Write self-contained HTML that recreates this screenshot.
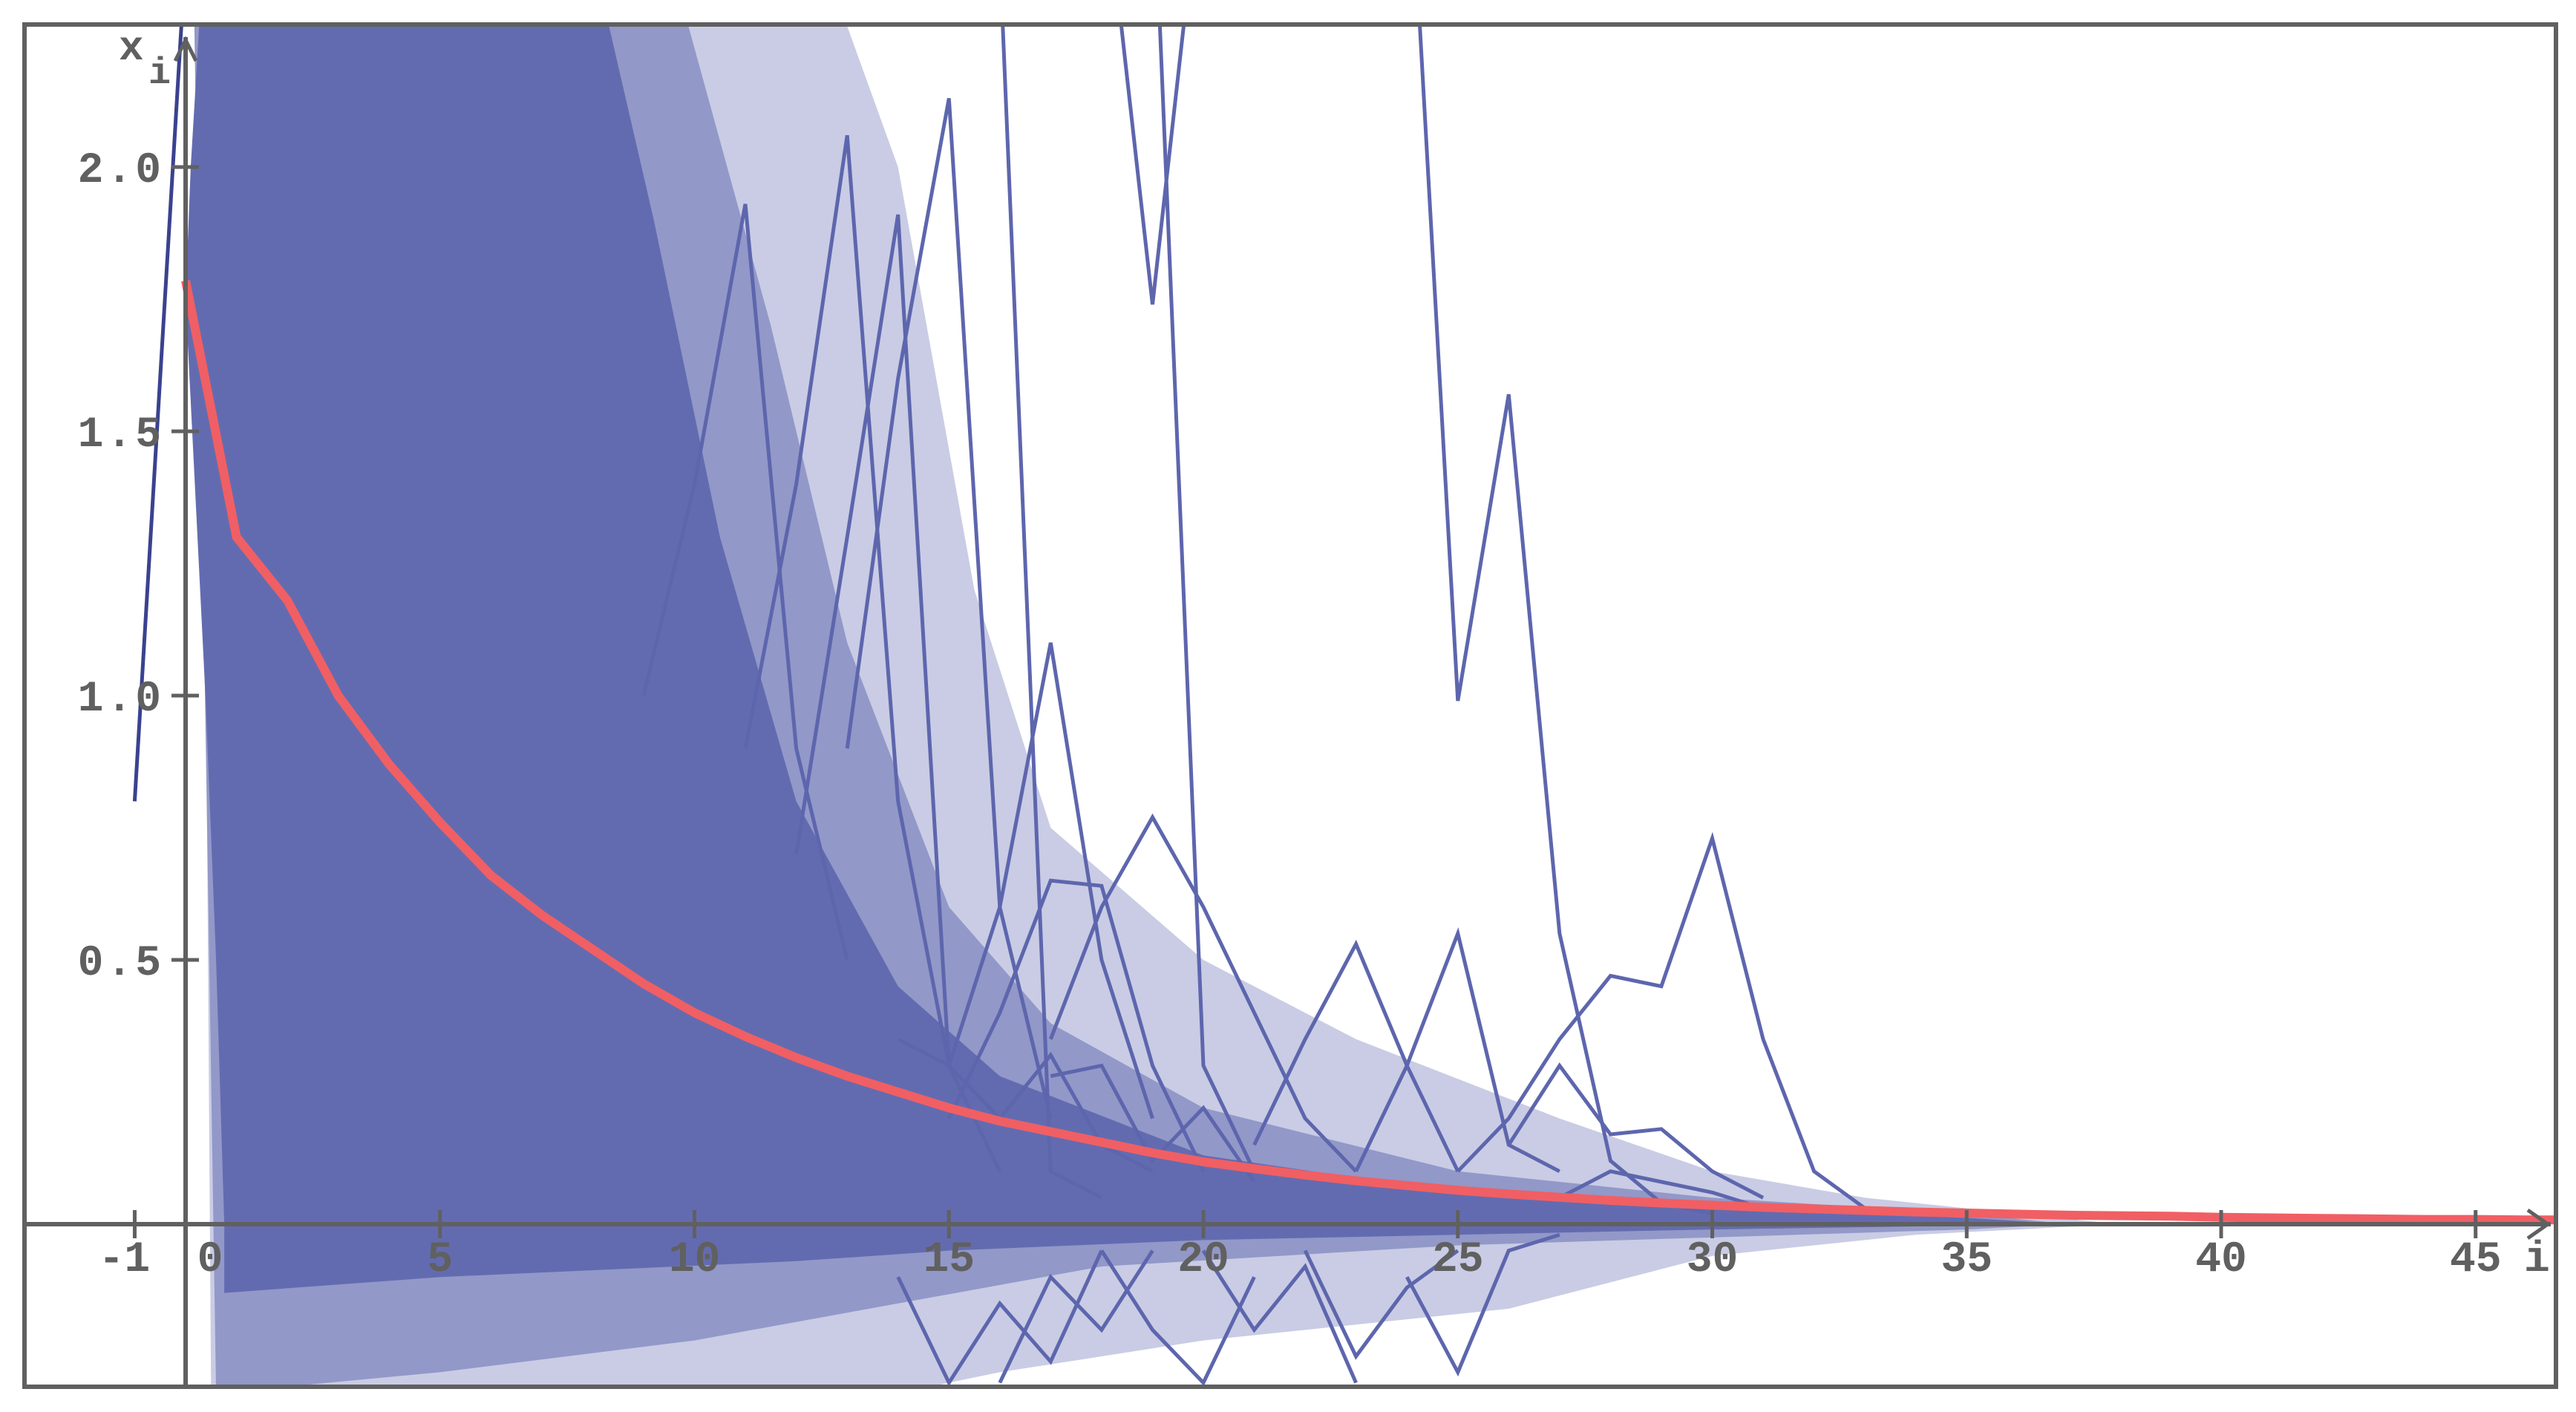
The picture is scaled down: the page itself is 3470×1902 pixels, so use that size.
<!DOCTYPE html>
<html><head><meta charset="utf-8"><style>
html,body{margin:0;padding:0;background:#fff;}
svg{display:block;}
text{font-family:"Liberation Mono",monospace;fill:#606060;}
</style></head><body>
<svg id="chart" width="3470" height="1902" viewBox="0 0 3470 1902" xmlns="http://www.w3.org/2000/svg">
<defs><clipPath id="plotclip"><rect x="36" y="36" width="3404" height="1829"/></clipPath></defs>
<rect x="0" y="0" width="3470" height="1902" fill="#fff"/>
<g id="marks" clip-path="url(#plotclip)"></g>
<g id="axes"></g>
<rect x="33" y="33" width="3410" height="1835" fill="none" stroke="#606060" stroke-width="6"/>
</svg>
<script>
// ---- data ----
const xTicks = [-1,5,10,15,20,25,30,35,40,45];
const yTicks = [0.5,1.0,1.5,2.0];
const yTickLabels = ["0.5","1.0","1.5","2.0"];
const meanValues = [1.785,1.30,1.18,1.0,0.87,0.76,0.66,0.585,0.52,0.455,0.40,0.355,0.315,0.28,0.25,0.22,0.195,0.175,0.155,0.135,0.118,0.105,0.093,0.082,0.073,0.064,0.057,0.051,0.045,0.04,0.036,0.032,0.029,0.026,0.023,0.021,0.019,0.017,0.016,0.015,0.013,0.012,0.011,0.010,0.009,0.009,0.008,0.008];
// density envelopes (i, value)
const lightUpperI = [0.3,9,12.5,14,15.5,17,20,23,27,30,33,36,38];
const lightUpperV = [2.4,2.4,2.4,2.0,1.2,0.75,0.5,0.35,0.2,0.1,0.05,0.02,0];
const lightLowerI = [38,34,30,26,20,16,14,0.5];
const lightLowerV = [0,-0.02,-0.06,-0.16,-0.22,-0.28,-0.32,-0.32];
const medUpperI = [0.15,9.5,11.5,13,15,17,20,25,30,35,37];
const medUpperV = [2.4,2.4,1.7,1.1,0.6,0.38,0.22,0.1,0.05,0.02,0];
const medLowerI = [37,35,25,18,14,10,5,0.6];
const medLowerV = [0,-0.01,-0.04,-0.08,-0.15,-0.22,-0.28,-0.32];
const coreUpperI = [0.76,0.6,0.39,0.13,0.0,0.1,0.35,8,9.2,10.5,12,14,16,20,25,30,35,37];
const coreUpperV = [0,0.5,1.0,1.5,1.75,2.0,2.4,2.4,1.9,1.3,0.8,0.45,0.28,0.13,0.06,0.03,0.012,0];
const coreLowerI = [37,30,20,15,12,5,0.76];
const coreLowerV = [0,-0.01,-0.03,-0.05,-0.07,-0.1,-0.13];
// individual trajectories: start index + values
const lineStarts = [-1,24,18,19,16,13,11,9,12,15,17,21,23,25,26,15,20,22,24,14,18,27,16,14,17];
const lineValues = [
 [0.8,2.4],
 [2.7,0.99,1.57,0.55,0.12,0.04,0.02],
 [2.6,1.74,2.6],
 [2.6,0.3,0.1],
 [2.4,0.1,0.05],
 [0.9,1.6,2.13,0.6,0.2],
 [0.9,1.4,2.06,0.8,0.3],
 [1.0,1.4,1.93,0.9,0.5],
 [0.7,1.3,1.91,0.3,0.1],
 [0.3,0.6,1.1,0.5,0.2],
 [0.35,0.6,0.77,0.6,0.4,0.2,0.1],
 [0.15,0.35,0.53,0.3,0.1],
 [0.1,0.3,0.55,0.15,0.1],
 [0.1,0.2,0.35,0.47,0.45,0.73,0.35,0.1,0.03],
 [0.15,0.3,0.17,0.18,0.1,0.05],
 [0.2,0.4,0.65,0.64,0.3,0.1],
 [-0.05,-0.2,-0.08,-0.3],
 [-0.05,-0.25,-0.12,-0.05],
 [-0.1,-0.28,-0.05,-0.02],
 [-0.1,-0.3,-0.15,-0.26,-0.05],
 [-0.05,-0.2,-0.3,-0.1],
 [0.05,0.1,0.08,0.06,0.03],
 [-0.3,-0.1,-0.2,-0.05],
 [0.35,0.3,0.2,0.32,0.15,0.1],
 [0.28,0.3,0.12,0.22,0.08]
];
// ---- scales ----
const X0 = 250, XU = 68.55, Y0 = 1649, YU = 712;
const xs = i => X0 + i * XU;
const ys = v => Y0 - v * YU;
const NS = "http://www.w3.org/2000/svg";
const marks = document.getElementById('marks');
const axes = document.getElementById('axes');
function mk(tag, attrs, parent){ const e = document.createElementNS(NS, tag); for (const k in attrs) e.setAttribute(k, attrs[k]); parent.appendChild(e); return e; }
function poly(ui, uv, li, lv){
  let pts = [];
  for (let k = 0; k < ui.length; k++) pts.push(xs(ui[k]).toFixed(1) + ',' + ys(uv[k]).toFixed(1));
  for (let k = 0; k < li.length; k++) pts.push(xs(li[k]).toFixed(1) + ',' + ys(lv[k]).toFixed(1));
  return pts.join(' ');
}
let p;
p = mk('polygon', {points: poly(lightUpperI, lightUpperV, lightLowerI, lightLowerV), fill: '#c9cce4'}, marks);


p = mk('polygon', {points: poly(medUpperI, medUpperV, medLowerI, medLowerV), fill: '#9298c8'}, marks);


p = mk('polygon', {points: poly(coreUpperI, coreUpperV, coreLowerI, coreLowerV), fill: '#636bb0'}, marks);


for (let s = 0; s < lineValues.length; s++) {
  const pts = lineValues[s].map((v, k) => xs(lineStarts[s] + k).toFixed(1) + ',' + ys(v).toFixed(1)).join(' ');
  const l = mk('polyline', {points: pts, fill: 'none', stroke: s === 0 ? '#3a428f' : '#5d66ad', 'stroke-width': 5}, marks);
  
  
}
const mp = meanValues.map((v, i) => xs(i).toFixed(1) + ',' + ys(v).toFixed(1)).join(' ');
const ml = mk('polyline', {points: mp, fill: 'none', stroke: '#f05f64', 'stroke-width': 12, 'stroke-linejoin': 'round'}, marks);


// ---- axes ----
let a;
a = mk('line', {x1: 36, y1: Y0, x2: 3436, y2: Y0, stroke: '#606060', 'stroke-width': 6}, axes);


a = mk('polyline', {points: '3405,1630 3432,1649 3405,1668', fill: 'none', stroke: '#606060', 'stroke-width': 5}, axes);


a = mk('line', {x1: X0, y1: 1866, x2: X0, y2: 50, stroke: '#606060', 'stroke-width': 6}, axes);


a = mk('polyline', {points: '236,82 250,54 264,82', fill: 'none', stroke: '#606060', 'stroke-width': 5}, axes);


xTicks.forEach(t => {
  const tk = mk('line', {x1: xs(t), y1: 1630, x2: xs(t), y2: 1668, stroke: '#606060', 'stroke-width': 5}, axes);
  
  
  const tx = mk('text', {x: xs(t) - (t < 0 ? 14 : 0), y: 1712, 'font-size': 58, 'font-weight': 'bold', 'text-anchor': 'middle'}, axes);
  tx.textContent = String(t);
  
  
});
a = mk('text', {x: 283, y: 1712, 'font-size': 58, 'font-weight': 'bold', 'text-anchor': 'middle'}, axes);
a.textContent = '0';


yTicks.forEach((t, k) => {
  const tk = mk('line', {x1: 231, y1: ys(t), x2: 268, y2: ys(t), stroke: '#606060', 'stroke-width': 5}, axes);
  
  
  const tx = mk('text', {x: 221, y: ys(t) + 20, 'font-size': 58, 'text-anchor': 'end', 'font-weight': 'bold', 'letter-spacing': 4}, axes);
  tx.textContent = yTickLabels[k];
  
  
});
a = mk('text', {x: 160, y: 80, 'font-size': 56, 'font-weight': 'bold'}, axes);
a.textContent = 'x';


a = mk('text', {x: 200, y: 112, 'font-size': 50, 'font-weight': 'bold'}, axes);
a.textContent = 'i';


a = mk('text', {x: 3400, y: 1712, 'font-size': 58, 'font-weight': 'bold'}, axes);
a.textContent = 'i';


</script>
</body></html>
